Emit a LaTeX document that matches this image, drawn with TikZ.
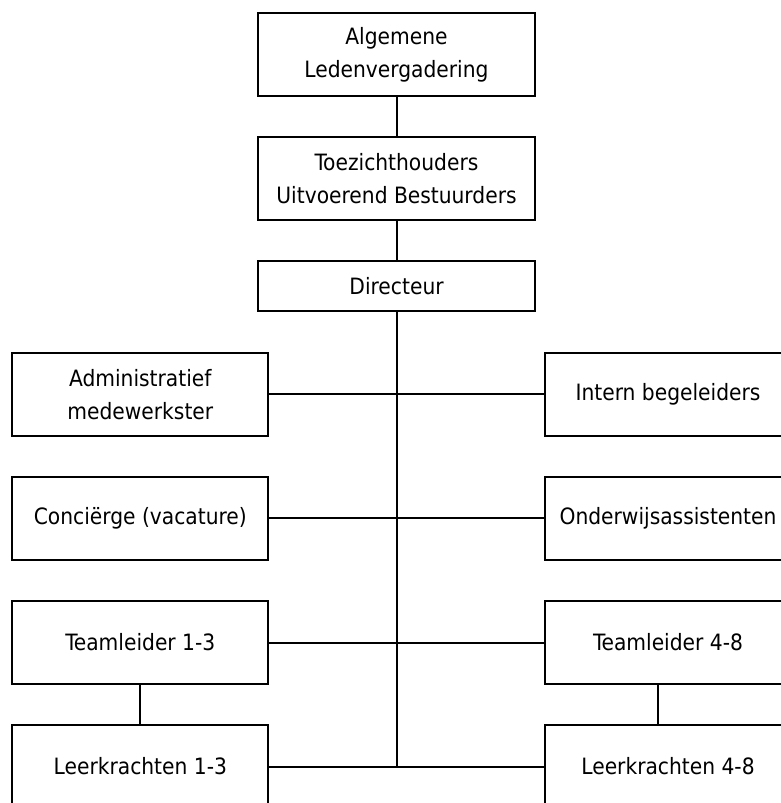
\documentclass[tikz,border=0pt]{standalone}
\usepackage{fontspec}
\setmainfont{DejaVu Sans Condensed}
\tikzset{orgbox/.style={draw, line width=2pt, align=center, inner sep=0pt,
    minimum height=83pt, font=\fontsize{22.5}{33}\selectfont},
  topbox/.style={orgbox, minimum width=277pt},
  sidebox/.style={orgbox, minimum width=256pt},
  wide/.style={orgbox, minimum width=246pt},
  link/.style={line width=2pt}}

\begin{document}
\begin{tikzpicture}[x=1pt,y=-1pt]
\useasboundingbox (0,0) rectangle (781,803);
\node[topbox] (alv) at (396.5,54.3) {Algemene\\Ledenvergadering};
\node[topbox] (toez) at (396.5,178.3) {Toezichthouders\\Uitvoerend Bestuurders};
\node[topbox,minimum height=50pt] (dir) at (396.5,286.3) {Directeur};

\node[sidebox] (admin) at (140.3,394.3) {Administratief\\medewerkster};
\node[wide] (ib) at (668,394.3) {Intern begeleiders};
\node[sidebox] (conc) at (140.3,518.3) {Conciërge (vacature)};
\node[wide] (oa) at (668,518.3) {Onderwijsassistenten};
\node[sidebox] (tl13) at (140.3,642.5) {Teamleider 1-3};
\node[wide] (tl48) at (668,642.5) {Teamleider 4-8};
\node[sidebox] (lk13) at (140.3,766.5) {Leerkrachten 1-3};
\node[wide] (lk48) at (668,766.5) {Leerkrachten 4-8};
\coordinate (rc) at (658,0);

\draw[link] (alv) to (toez);
\draw[link] (toez) to (dir);
\draw[link] (dir.south) to (dir.south |- lk13.east);
\draw[link] (admin) to (ib);
\draw[link] (conc) to (oa);
\draw[link] (tl13) to (tl48);
\draw[link] (lk13) to (lk48);
\draw[link] (tl13) to (lk13);
\draw[link] (tl48.south -| rc) to (lk48.north -| rc);
\end{tikzpicture}
\end{document}
